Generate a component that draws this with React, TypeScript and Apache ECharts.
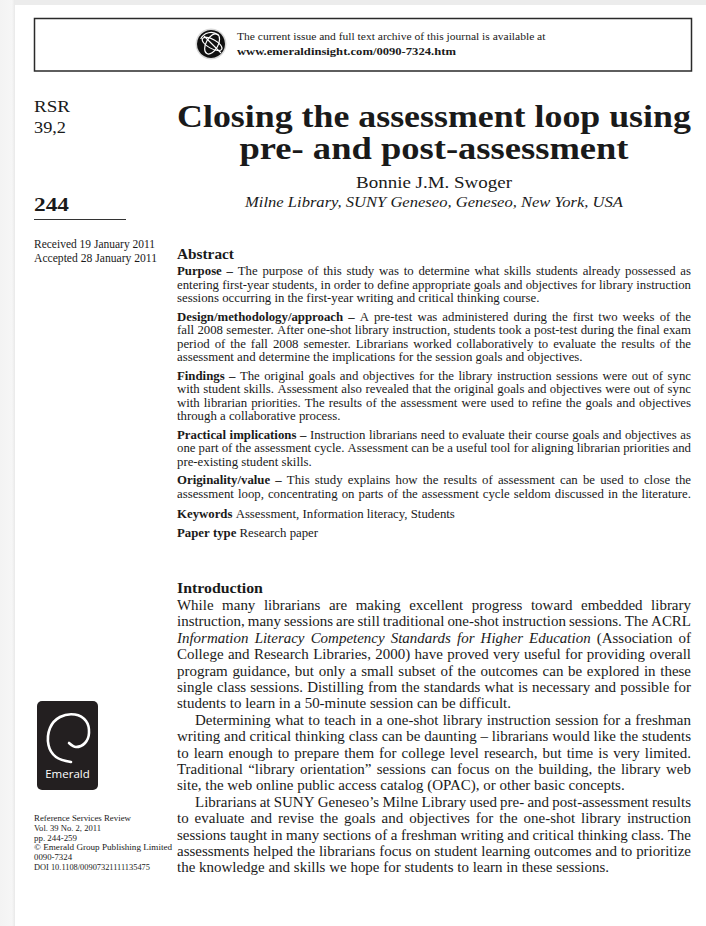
import React, { useEffect, useRef } from "react";
import * as echarts from "echarts";

const SERIF = '"Liberation Serif", "Times New Roman", Times, serif';
const SANS = '"Open Sans", "DejaVu Sans", sans-serif';
const INK = "#1a1a1a";

// ---- text content ----
const headerLines = [
  "The current issue and full text archive of this journal is available at",
  "www.emeraldinsight.com/0090-7324.htm",
];
const journalCode = ["RSR", "39,2"];
const pageNumber = "244";
const titleLines = ["Closing the assessment loop using", "pre- and post-assessment"];
const authorName = "Bonnie J.M. Swoger";
const affiliation = "Milne Library, SUNY Geneseo, Geneseo, New York, USA";
const dates = ["Received 19 January 2011", "Accepted 28 January 2011"];
const abstractHeading = "Abstract";
const abstractParas: string[][] = [
  [
    "*Purpose –* The purpose of this study was to determine what skills students already possessed as",
    "entering first-year students, in order to define appropriate goals and objectives for library instruction",
    "sessions occurring in the first-year writing and critical thinking course.",
  ],
  [
    "*Design/methodology/approach –* A pre-test was administered during the first two weeks of the",
    "fall 2008 semester. After one-shot library instruction, students took a post-test during the final exam",
    "period of the fall 2008 semester. Librarians worked collaboratively to evaluate the results of the",
    "assessment and determine the implications for the session goals and objectives.",
  ],
  [
    "*Findings –* The original goals and objectives for the library instruction sessions were out of sync",
    "with student skills. Assessment also revealed that the original goals and objectives were out of sync",
    "with librarian priorities. The results of the assessment were used to refine the goals and objectives",
    "through a collaborative process.",
  ],
  [
    "*Practical implications –* Instruction librarians need to evaluate their course goals and objectives as",
    "one part of the assessment cycle. Assessment can be a useful tool for aligning librarian priorities and",
    "pre-existing student skills.",
  ],
  [
    "*Originality/value –* This study explains how the results of assessment can be used to close the",
    "assessment loop, concentrating on parts of the assessment cycle seldom discussed in the literature.",
  ],
];
const keywordsLine = "*Keywords* Assessment, Information literacy, Students";
const paperTypeLine = "*Paper type* Research paper";
const introHeading = "Introduction";
const introParas: string[][] = [
  [
    "While many librarians are making excellent progress toward embedded library",
    "instruction, many sessions are still traditional one-shot instruction sessions. The ACRL",
    "_Information Literacy Competency Standards for Higher Education_ (Association of",
    "College and Research Libraries, 2000) have proved very useful for providing overall",
    "program guidance, but only a small subset of the outcomes can be explored in these",
    "single class sessions. Distilling from the standards what is necessary and possible for",
    "students to learn in a 50-minute session can be difficult.",
  ],
  [
    "Determining what to teach in a one-shot library instruction session for a freshman",
    "writing and critical thinking class can be daunting – librarians would like the students",
    "to learn enough to prepare them for college level research, but time is very limited.",
    "Traditional “library orientation” sessions can focus on the building, the library web",
    "site, the web online public access catalog (OPAC), or other basic concepts.",
  ],
  [
    "Librarians at SUNY Geneseo’s Milne Library used pre- and post-assessment results",
    "to evaluate and revise the goals and objectives for the one-shot library instruction",
    "sessions taught in many sections of a freshman writing and critical thinking class. The",
    "assessments helped the librarians focus on student learning outcomes and to prioritize",
    "the knowledge and skills we hope for students to learn in these sessions.",
  ],
];
const sideNotes = [
  "Reference Services Review",
  "Vol. 39 No. 2, 2011",
  "pp. 244-259",
  "© Emerald Group Publishing Limited",
  "0090-7324",
  "DOI 10.1108/00907321111135475",
];
const sideNoteWidths = [97, 67, 43, 138, 38, 116];
const logoLabel = "Emerald";

// ---- helpers ----
let ctx: CanvasRenderingContext2D | null = null;
function measure(text: string, size: number, weight = "normal", style = "normal", family = SERIF) {
  if (!ctx) ctx = document.createElement("canvas").getContext("2d");
  ctx!.font = `${style} ${weight} ${size}px ${family}`;
  return ctx!.measureText(text).width;
}

type TOpt = {
  size: number;
  weight?: string;
  style?: string;
  family?: string;
  fill?: string;
  align?: string;
  scaleX?: number;
};

function txt(text: string, x: number, y: number, o: TOpt) {
  const align = o.align ?? "left";
  return {
    type: "text",
    x,
    y,
    scaleX: o.scaleX ?? 1,
    silent: true,
    style: {
      text,
      fontSize: o.size,
      fontFamily: o.family ?? SERIF,
      fontWeight: o.weight ?? "normal",
      fontStyle: o.style ?? "normal",
      fill: o.fill ?? INK,
      align,
      textAlign: align,
      verticalAlign: "middle",
      textVerticalAlign: "middle",
    },
  };
}

function fitTxt(text: string, x: number, y: number, target: number, o: TOpt) {
  const w = measure(text, o.size, o.weight ?? "normal", o.style ?? "normal", o.family ?? SERIF);
  return txt(text, x, y, { ...o, scaleX: target / w });
}

type Tok = { text: string; bold: boolean; italic: boolean };
function parseLine(s: string): Tok[] {
  let bold = false;
  let italic = false;
  return s.split(" ").map((w) => {
    let t = w;
    if (t.startsWith("*")) { bold = !bold; t = t.slice(1); }
    if (t.startsWith("_")) { italic = !italic; t = t.slice(1); }
    const tok = { text: "", bold, italic };
    if (t.endsWith("*")) { bold = !bold; t = t.slice(0, -1); }
    if (t.endsWith("_")) { italic = !italic; t = t.slice(0, -1); }
    tok.text = t;
    return tok;
  });
}
function tokW(t: Tok, size: number) {
  return measure(t.text, size, t.bold ? "bold" : "normal", t.italic ? "italic" : "normal");
}

function layoutLine(toks: Tok[], x0: number, width: number, y: number, size: number, justify: boolean, scale: number, els: any[]) {
  const ws = toks.map((t) => tokW(t, size) * scale);
  const sum = ws.reduce((a, b) => a + b, 0);
  let gap = measure(" ", size) * scale;
  if (justify && toks.length > 1) gap = (width - sum) / (toks.length - 1);
  let x = x0;
  toks.forEach((t, i) => {
    els.push(txt(t.text, x, y, { size, weight: t.bold ? "bold" : "normal", style: t.italic ? "italic" : "normal", scaleX: scale }));
    x += ws[i] + gap;
  });
}

function layoutParas(paras: string[][], o: { x: number; right: number; y0: number; lh: number; gap: number; size: number; indent: number; indentFirst: boolean }, els: any[]) {
  const parsed = paras.map((p) => p.map(parseLine));
  const lineX = (pi: number, li: number) => o.x + (li === 0 && (pi > 0 || o.indentFirst) ? o.indent : 0);
  let scale = 1;
  parsed.forEach((p, pi) =>
    p.forEach((toks, li) => {
      const w = o.right - lineX(pi, li);
      const sum = toks.reduce((a, t) => a + tokW(t, o.size), 0);
      const need = sum + (toks.length - 1) * 0.2 * o.size;
      const isLast = li === p.length - 1;
      if (!isLast || need > w * 0.97) scale = Math.min(scale, w / need);
    })
  );
  let y = o.y0;
  const sp = measure(" ", o.size);
  parsed.forEach((p, pi) => {
    p.forEach((toks, li) => {
      const lx = lineX(pi, li);
      const w = o.right - lx;
      const isLast = li === p.length - 1;
      const natural = (toks.reduce((a, t) => a + tokW(t, o.size), 0) + (toks.length - 1) * sp) * scale;
      const justify = !isLast || natural > w * 0.97;
      layoutLine(toks, lx, w, y, o.size, justify, scale, els);
      y += o.lh;
    });
    y += o.gap;
  });
}

function buildElements() {
  const els: any[] = [];
  // page margins (viewer shadow)
  els.push({
    type: "rect", silent: true, shape: { x: 0, y: 0, width: 706, height: 5 },
    style: { fill: "#ececec" },
  });
  els.push({
    type: "rect", silent: true, shape: { x: 0, y: 0, width: 15, height: 926 },
    style: {
      fill: new echarts.graphic.LinearGradient(0, 0, 1, 0, [
        { offset: 0, color: "#f3f3f3" },
        { offset: 0.8, color: "#f6f6f6" },
        { offset: 1, color: "#e9e9e9" },
      ]),
    },
  });
  // header box
  els.push({
    type: "rect", silent: true, shape: { x: 34.5, y: 18.5, width: 657, height: 52.5 },
    style: { fill: "#fff", stroke: "#2a2a2a", lineWidth: 1.5 },
  });
  // globe icon
  els.push({ type: "circle", silent: true, shape: { cx: 211, cy: 44, r: 15.5 }, style: { fill: "#d8d8d8" } });
  els.push({ type: "circle", silent: true, shape: { cx: 211, cy: 44, r: 14 }, style: { fill: "#111" } });
  els.push({ type: "ellipse", silent: true, shape: { cx: 212, cy: 44, rx: 6, ry: 11 }, rotation: -0.5, originX: 212, originY: 44, style: { fill: null, stroke: "#fff", lineWidth: 1.2 } });
  els.push({ type: "ellipse", silent: true, shape: { cx: 212, cy: 44, rx: 11, ry: 4.5 }, rotation: -0.5, originX: 212, originY: 44, style: { fill: null, stroke: "#fff", lineWidth: 1.1 } });
  els.push({ type: "line", silent: true, shape: { x1: 204, y1: 36, x2: 221, y2: 53 }, style: { stroke: "#fff", lineWidth: 1.1 } });
  els.push({ type: "arc", silent: true, shape: { cx: 211, cy: 44, r: 11.5, startAngle: 3.6, endAngle: 5.4 }, style: { stroke: "#fff", lineWidth: 1.2, fill: null } });

  els.push(fitTxt(headerLines[0], 237, 36, 309, { size: 10.5 }));
  els.push(fitTxt(headerLines[1], 237, 51, 219, { size: 11, weight: "bold" }));

  // left column
  els.push(fitTxt(journalCode[0], 34, 106, 36, { size: 17.5 }));
  els.push(fitTxt(journalCode[1], 34, 127, 32, { size: 17.5 }));
  els.push(fitTxt(pageNumber, 34, 205, 35, { size: 19, weight: "bold" }));
  els.push({ type: "line", silent: true, shape: { x1: 34, y1: 219.5, x2: 126, y2: 219.5 }, style: { stroke: "#333", lineWidth: 1 } });
  els.push(fitTxt(dates[0], 34, 244, 121, { size: 12.2 }));
  els.push(fitTxt(dates[1], 34, 258, 123, { size: 12.2 }));

  // title block
  els.push(fitTxt(titleLines[0], 434, 116, 514, { size: 31.5, weight: "bold", align: "center" }));
  els.push(fitTxt(titleLines[1], 434, 148, 389, { size: 31.5, weight: "bold", align: "center" }));
  els.push(fitTxt(authorName, 434, 182, 156, { size: 17, align: "center" }));
  els.push(fitTxt(affiliation, 434, 202, 378, { size: 15.5, style: "italic", align: "center" }));

  // abstract
  els.push(fitTxt(abstractHeading, 177, 254, 57, { size: 14.5, weight: "bold" }));
  const absSize = 12.8;
  layoutParas(abstractParas, { x: 177, right: 691, y0: 271, lh: 13.5, gap: 5, size: absSize, indent: 0, indentFirst: false }, els);
  layoutParas([[keywordsLine]], { x: 177, right: 691, y0: 514, lh: 13.5, gap: 0, size: absSize, indent: 0, indentFirst: false }, els);
  layoutParas([[paperTypeLine]], { x: 177, right: 691, y0: 533, lh: 13.5, gap: 0, size: absSize, indent: 0, indentFirst: false }, els);

  // introduction
  els.push(fitTxt(introHeading, 177, 588, 86, { size: 15.5, weight: "bold" }));
  layoutParas(introParas, { x: 177, right: 691, y0: 605, lh: 16.4, gap: 0, size: 15.3, indent: 18, indentFirst: false }, els);

  // Emerald logo
  els.push({ type: "rect", silent: true, shape: { x: 37, y: 701, width: 61, height: 89, r: 5 }, style: { fill: "#231f20" } });
  els.push({
    type: "polyline", silent: true,
    shape: {
      points: [
        [71, 762], [56, 757], [48.5, 745], [50, 728], [60, 717], [75, 714.5], [86, 721], [89, 733],
        [85, 743], [76, 747], [69, 743],
      ],
      smooth: 0.35,
    },
    style: { stroke: "#fff", lineWidth: 2.6, fill: null, lineCap: "round" },
  });
  els.push(txt(logoLabel, 67.5, 773, { size: 11.5, family: SANS, fill: "#fff", align: "center" }));

  // side notes
  sideNotes.forEach((s, i) => {
    els.push(fitTxt(s, 34, 818 + i * 9.8, sideNoteWidths[i], { size: 9.2 }));
  });
  return els;
}

export default function App() {
  const ref = useRef<HTMLDivElement>(null);
  useEffect(() => {
    if (!ref.current) return;
    const chart = echarts.init(ref.current, null, { renderer: "svg" });
    chart.setOption({
      animation: false,
      backgroundColor: "#ffffff",
      graphic: { elements: buildElements() },
    });
    return () => chart.dispose();
  }, []);
  return (
    <div
      ref={ref}
      style={{ position: "absolute", left: 0, top: 0, width: 706, height: 926, background: "#fff" }}
    />
  );
}
